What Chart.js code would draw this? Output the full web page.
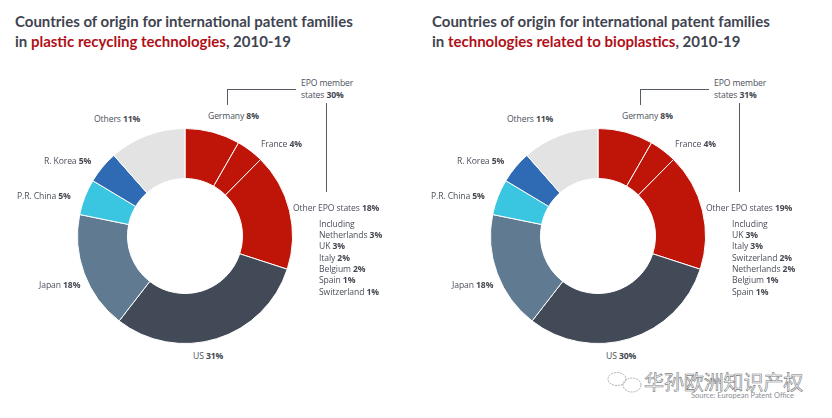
<!DOCTYPE html>
<html><head><meta charset="utf-8">
<script src="https://cdn.jsdelivr.net/npm/chart.js@4"></script>
<style>
html,body{margin:0;padding:0;background:#fff;width:832px;height:418px;overflow:hidden}
body{position:relative;font-family:"Lato",sans-serif;color:#4b505b}
canvas{position:absolute}
.t{position:absolute;white-space:nowrap;font-size:15px;line-height:20px;font-weight:700;color:#3f4450}
.t em{font-style:normal;color:#b01018}
.l{position:absolute;white-space:nowrap;font-family:"Open Sans",sans-serif;font-size:8.6px;letter-spacing:-.1px;line-height:12px;transform:translateY(-50%)}
.l b{font-weight:700;color:#43474f}
.r{position:absolute;background:#555a63}
#wm{position:absolute;left:644px;top:369px;font-family:"Noto Sans CJK SC";font-size:20px;line-height:26px;color:#fff;-webkit-text-stroke:.6px #77797c;white-space:nowrap;letter-spacing:-.1px}
#src{position:absolute;left:691px;top:390px;font-size:7.500px;line-height:12px;color:#8b8e93;white-space:nowrap}
</style></head><body>
<canvas id="c1" style="left:77px;top:128px"></canvas>
<canvas id="c2" style="left:490px;top:128px"></canvas>
<svg style="position:absolute;left:604px;top:368px" width="40" height="30" fill="none" stroke="#9a9c9e" stroke-width=".8" stroke-dasharray="2 1"><ellipse cx="13" cy="11" rx="9" ry="6.500"/><ellipse cx="28" cy="17" rx="9" ry="7"/></svg>
<div id="wm"></div><div id="src"></div>
<script>
const segments = ["Germany","France","Other EPO states","US","Japan","P.R. China","R. Korea","Others"];
const recyclingLabels = [8,4,18,31,18,5,5,11];
const bioplasticsLabels = [8,4,19,30,18,5,5,11];
/* arc shares as drawn in the picture; both rings are drawn alike */
const recyclingArcs = [8.3,4.1,17.6,30.5,17.7,5.4,4.9,11.5];
const bioplasticsArcs = [8.3,4.1,17.6,30.5,17.7,5.4,4.9,11.5];
const recyclingEpo = 30, bioplasticsEpo = 31;
const titleLead = "Countries of origin for international patent families";
const recyclingTech = "plastic recycling technologies";
const bioplasticsTech = "technologies related to bioplastics";
const titleYears = ", 2010-19";
const recyclingDetail = [["Netherlands",3],["UK",3],["Italy",2],["Belgium",2],["Spain",1],["Switzerland",1]];
const bioplasticsDetail = [["UK",3],["Italy",3],["Switzerland",2],["Netherlands",2],["Belgium",1],["Spain",1]];
const sourceText = "Source: European Patent Office";
const watermark = "华孙欧洲知识产权";
const segmentColors = ["#bf1408","#bf1408","#bf1408","#434a57","#5f7a91","#3ac6e0","#2f6bb5","#e3e3e4"];

function add(cls,html,x,y){const d=document.createElement('div');d.className=cls;d.innerHTML=html;d.style.left=x+'px';d.style.top=y+'px';document.body.appendChild(d);return d}
function rule(x,y,w,h){const d=add('r','',x,y);d.style.width=w+'px';d.style.height=h+'px'}
function pct(n,v){return n+' <b>'+v+'%</b>'}

function panel(id,arcs,labels,epo,tech,detail,ox,pos){
  const cv=document.getElementById(id);cv.width=216;cv.height=216;
  new Chart(cv,{type:'doughnut',data:{labels:segments,datasets:[{data:arcs,backgroundColor:segmentColors,borderColor:'#fff',borderWidth:1}]},
    options:{responsive:false,animation:false,cutout:'53.500%',layout:{padding:0},plugins:{legend:{display:false},tooltip:{enabled:false}}}});
  add('t',titleLead+'<br>in <em>'+tech+'</em>'+titleYears,15+(ox?417:0),11);
  add('l','EPO member<br>states <b>'+epo+'%</b>',pos.epo,89);
  rule(227+ox,89,69,1);rule(227+ox,89,1,16);rule(326+ox,103,1,89);
  const ys=[116,144,208,356,285,196,161,119];
  segments.forEach((s,i)=>add('l',pct(s,labels[i]),pos.x[i],ys[i]));
  add('l','Including',pos.det,223.5);
  detail.forEach((r,i)=>add('l',pct(r[0],r[1]),pos.det,235+i*11.35));
}
panel('c1',recyclingArcs,recyclingLabels,recyclingEpo,recyclingTech,recyclingDetail,0,{epo:301,det:319,x:[208,261,293,193,39,17,44,94]});
panel('c2',bioplasticsArcs,bioplasticsLabels,bioplasticsEpo,bioplasticsTech,bioplasticsDetail,413,{epo:714,det:732,x:[622,675,706,606,452,431,457,507]});
document.getElementById('wm').textContent=watermark;
document.getElementById('src').textContent=sourceText;
</script>
</body></html>
